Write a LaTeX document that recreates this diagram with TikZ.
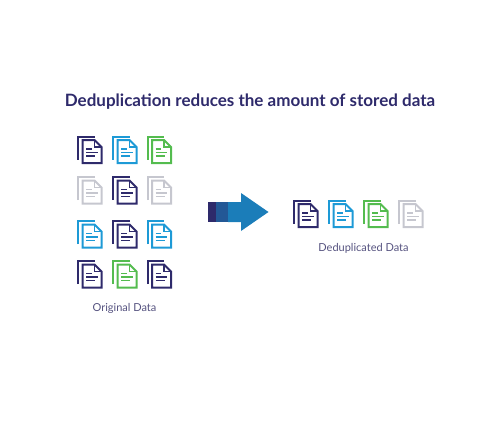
\documentclass[tikz,border=0pt]{standalone}
\usepackage{fontspec}
\setmainfont{Lato}
\definecolor{navy}{HTML}{2E2A6B}
\definecolor{sky}{HTML}{1D9AD6}
\definecolor{leaf}{HTML}{54BC4F}
\definecolor{ash}{HTML}{C6C7CF}
\definecolor{caption}{HTML}{55527F}
\definecolor{arrowblue}{HTML}{1B7DB9}
\tikzset{
	doc/.pic={
		\draw[line width=2pt,pic actions] (0.5,24) -- (0.5,1) -- (17,1);
		\draw[line width=2pt,pic actions,line join=miter] (5,4.5) -- (17,4.5) -- (24,11.5) -- (24,27.5) -- (5,27.5) -- cycle;
		\draw[line width=1.6pt,pic actions] (17,4.5) -- (17,11.5) -- (24,11.5);
		\draw[line width=1.9pt,pic actions] (8.5,13.5) -- (14,13.5) (8.5,17) -- (20,17) (8.5,20.5) -- (17.5,20.5);
	},
	caption/.style={text=caption,font=\fontsize{11}{13}\selectfont}
}
\begin{document}
\begin{tikzpicture}[x=1pt,y=-1pt]
	\useasboundingbox (0,0) rectangle (500,425);
	\node[text=navy,font=\fontsize{17}{20}\bfseries\selectfont] (title) at (250,102) {Deduplication reduces the amount of stored data};
	% original data
	\foreach \px/\py/\col in {77.5/135.5/navy,112.5/135.5/sky,147/135.5/leaf,
		77.5/176/ash,112.5/176/navy,147/176/ash,
		77.5/220/sky,112.5/220/navy,147/220/sky,
		77.5/260/navy,112.5/260/leaf,147/260/navy}
		\pic[draw=\col] at (\px,\py) {doc};
	\node[caption] (original) at (124.5,308.5) {Original Data};
	% arrow
	\fill[arrowblue] (228,202) -- (241,202) -- (241,193) -- (268.5,212) -- (241,231) -- (241,222) -- (228,222) -- cycle;
	\fill[navy] (208,202) rectangle (215.5,222);
	\fill[navy!45!arrowblue] (215.5,202) rectangle (228,222);
	% deduplicated data
	\foreach \px/\col in {293.5/navy,328.5/sky,363.5/leaf,398.5/ash}
		\pic[draw=\col] at (\px,199.5) {doc};
	\node[caption] (dedup) at (363.5,248.5) {Deduplicated Data};
\end{tikzpicture}
\end{document}
